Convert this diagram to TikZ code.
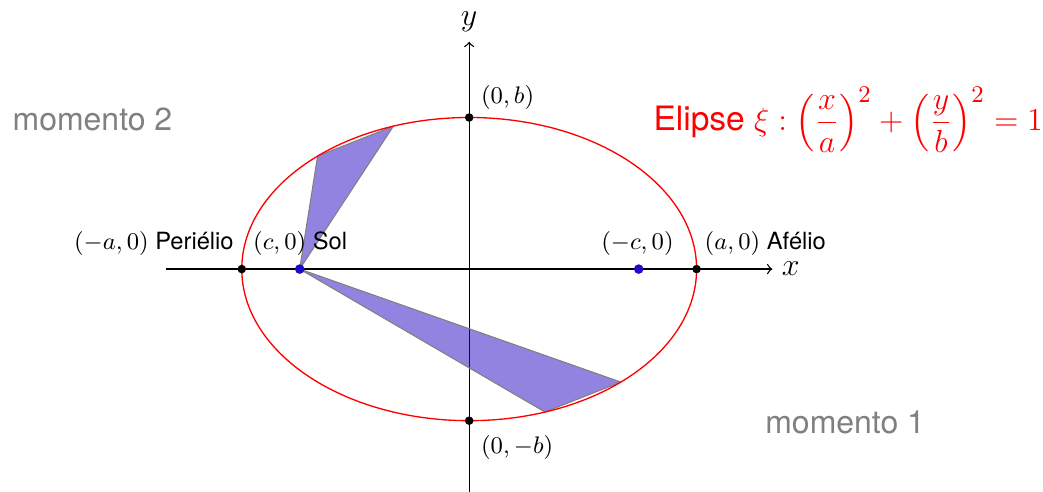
\documentclass[tikz,border=0pt]{standalone}
\usepackage{fontspec}
\setsansfont{TeX Gyre Heros}
\renewcommand{\familydefault}{\sfdefault}
\usepackage{amsmath}
\usetikzlibrary{calc}
\definecolor{sectorfill}{RGB}{37,7,193}
\definecolor{focusblue}{RGB}{30,10,200}
\begin{document}
\begin{tikzpicture}[
  axis/.style={->, line width=0.5pt},
  lbl/.style={font=\fontsize{8.9}{10}\selectfont, inner sep=2pt},
  big/.style={font=\fontsize{12}{14}\selectfont, text=gray},
  axlbl/.style={font=\fontsize{11.5}{13}\selectfont},
  dot/.style={circle, fill=black, inner sep=0pt, minimum size=3.2pt},
  fdot/.style={circle, fill=focusblue, inner sep=0pt, minimum size=3.6pt},
  sector/.style={fill=sectorfill, fill opacity=0.5, draw=gray, line width=0.4pt}
]
\useasboundingbox (-6.19,-2.94) rectangle (7.57,3.55);
% key points
\coordinate (F) at ({-sqrt(5)},0);
\coordinate (P1) at (2,{-2*sqrt(5)/3});
\coordinate (P2) at (1,{-2*sqrt(8)/3});
\coordinate (Q1) at (-2,{2*sqrt(5)/3});
\coordinate (Q2) at (-1,{2*sqrt(8)/3});
% axes
\coordinate (xl) at (-4,0); \coordinate (xr) at (4,0);
\coordinate (yb) at (0,-3); \coordinate (yt) at (0,3);
\draw[axis] (xl) -- (xr) node[axlbl, right] {$x$};
\draw[axis] (yb) -- (yt) node[axlbl, above] {$y$};
% sectors
\fill[sector] (F) -- (P1) -- (P2) -- cycle;
\fill[sector] (F) -- (Q1) -- (Q2) -- cycle;
% ellipse
\draw[red, line width=0.5pt] (0,0) ellipse (3 and 2);
% points
\node[dot] (A) at (3,0) {};
\node[dot] (Am) at (-3,0) {};
\node[dot] (B) at (0,2) {};
\node[dot] (Bm) at (0,-2) {};
\node[fdot] (S) at (F) {};
\node[fdot] (F2) at ({sqrt(5)},0) {};
% labels
\node[lbl, anchor=south east] (lAm) at (-3.03,0.1) {$(-a,0)$ Periélio};
\node[lbl, anchor=south] (lS) at (-2.23,0.1) {$(c,0)$ Sol};
\node[lbl, anchor=south] (lF2) at (2.22,0.1) {$(-c,0)$};
\node[lbl, anchor=south west] (lA) at (3.03,0.1) {$(a,0)$ Afélio};
\node[lbl, anchor=south west] (lB) at (0.08,2.03) {$(0,b)$};
\node[lbl, anchor=north west] (lBm) at (0.08,-2.12) {$(0,-b)$};
\node[big] (m2) at (-4.97,1.97) {momento 2};
\node[big] (m1) at (4.96,-2.02) {momento 1};
\node[red, font=\fontsize{12.6}{15}\selectfont] (eq) at (5.0,1.97)
  {Elipse $\xi:\left(\dfrac{x}{a}\right)^2+\left(\dfrac{y}{b}\right)^2=1$};
\end{tikzpicture}
\end{document}
